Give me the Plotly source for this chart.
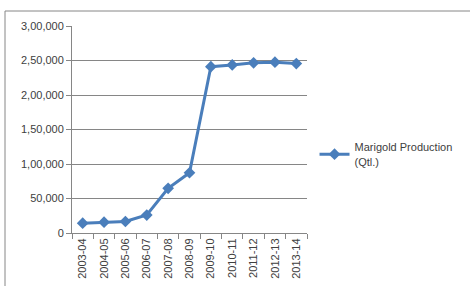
import plotly.graph_objects as go

years = ["2003-04", "2004-05", "2005-06", "2006-07", "2007-08", "2008-09",
         "2009-10", "2010-11", "2011-12", "2012-13", "2013-14"]
production = [14300, 15700, 16700, 26000, 64700, 87300,
              241000, 243600, 246600, 247600, 245500]
ytick_vals = [0, 50000, 100000, 150000, 200000, 250000, 300000]
ytick_text = ["0", "50,000", "1,00,000", "1,50,000", "2,00,000", "2,50,000", "3,00,000"]

fig = go.Figure()
fig.add_trace(go.Scatter(
    x=years, y=production, mode="lines+markers",
    name="Marigold Production<br>(Qtl.)",
    line=dict(color="#4A7EBB", width=3),
    marker=dict(symbol="diamond", size=9, color="#4A7EBB"),
))

font = dict(family="Liberation Sans, Arial, sans-serif", size=11, color="#404040")
fig.update_layout(
    width=470, height=286,
    margin=dict(l=72, r=163, t=26, b=53, autoexpand=False),
    paper_bgcolor="white", plot_bgcolor="white",
    font=font,
    showlegend=True,
    legend=dict(x=1.032, y=0.38, xanchor="left", yanchor="middle",
                font=font, bgcolor="rgba(0,0,0,0)", itemwidth=30),
    xaxis=dict(type="category", showgrid=False, showline=True,
               linecolor="#868686", linewidth=1, ticks="outside",
               tickson="boundaries", ticklen=5, tickcolor="#868686",
               tickangle=-90, tickfont=font, range=[-0.5, 10.5],
               automargin=False),
    yaxis=dict(range=[0, 300000], tickvals=ytick_vals, ticktext=ytick_text,
               showgrid=True, gridcolor="#868686", gridwidth=1,
               showline=True, linecolor="#868686", linewidth=1,
               ticks="outside", ticklen=5, tickcolor="#868686",
               tickfont=font, zeroline=False, automargin=False),
    shapes=[
        dict(type="line", xref="paper", yref="paper",
             x0=(5 - 72) / 235, x1=(470 - 72) / 235,
             y0=(233 - 11) / 207, y1=(233 - 11) / 207,
             line=dict(color="#868686", width=1)),
        dict(type="line", xref="paper", yref="paper",
             x0=(5 - 72) / 235, x1=(5 - 72) / 235,
             y0=(233 - 11) / 207, y1=(233 - 290) / 207,
             line=dict(color="#868686", width=1)),
    ],
)

fig.write_html("out.html",
               config={"displayModeBar": False},
               post_script="document.body.style.margin='0';document.body.style.overflow='hidden';")
